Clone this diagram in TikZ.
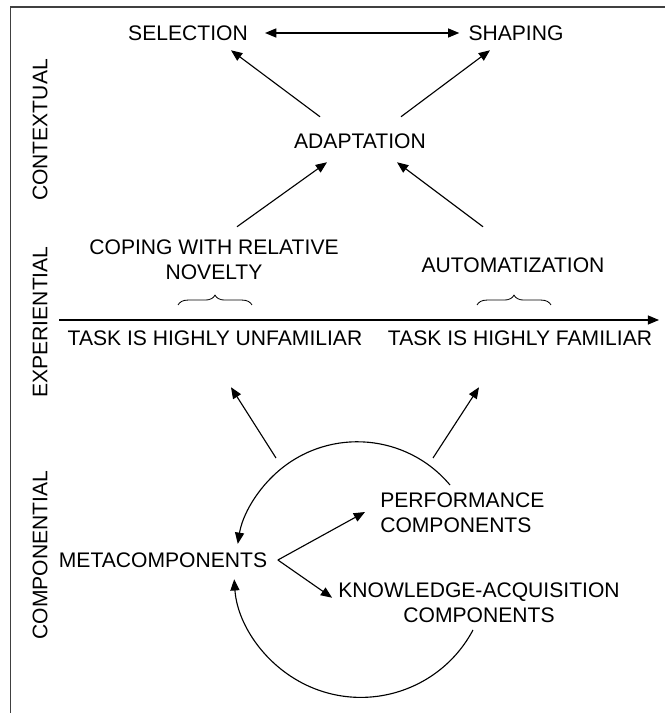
\documentclass[tikz,border=0pt]{standalone}
\usepackage{fontspec}
\setmainfont{Liberation Sans}
\usepackage{tikz}
\usetikzlibrary{calc,arrows.meta,decorations.pathreplacing}
\tikzset{
    txt/.style={inner sep=0pt, align=center, font=\fontsize{15}{17.8}\selectfont},
    side/.style={txt, rotate=90},
    line/.style={-{Triangle[length=8pt,width=6.5pt]}, line width=0.8pt},
    twoway/.style={{Triangle[length=8pt,width=6.5pt]}-{Triangle[length=8pt,width=6.5pt]}, line width=0.8pt},
    decoration={brace,amplitude=7pt},
    tuborg/.style={decorate, line width=0.6pt},
    boxline/.style={line width=1.4pt, draw=black!75},
}
\begin{document}
\begin{tikzpicture}[x=0.025cm, y=0.025cm]
    \useasboundingbox (0,0) rectangle (665,713);
    \draw[boxline] (10.5,0) -- (10.5,706) -- (665,706);

    % the three subtheories
    \node[side] (ctx) at (40,583) {CONTEXTUAL};
    \node[side] (exp) at (40,391) {EXPERIENTIAL};
    \node[side] (comp) at (40,158) {COMPONENTIAL};

    % contextual
    \node[txt] (sel) at (188,680) {SELECTION};
    \node[txt] (shp) at (516,680) {SHAPING};
    \node[txt] (adapt) at (360,572) {ADAPTATION};

    \draw[twoway] ($(sel.east)+(17,0)$) -- ($(shp.west)+(-9,0)$);
    \draw[line] ($(adapt.north)+(-40,16.5)$) -- ($(sel.south)+(43,-9.5)$);
    \draw[line] ($(adapt.north)+(41,16.5)$) -- ($(shp.south)+(-26,-9.5)$);

    % experiential
    \node[txt] (coping) at (214,453) {COPING WITH RELATIVE\\NOVELTY};
    \node[txt] (auto) at (513,448) {AUTOMATIZATION};
    \node[txt] (unfam) at (215,375) {TASK IS HIGHLY UNFAMILIAR};
    \node[txt] (fam) at (520,375) {TASK IS HIGHLY FAMILIAR};

    \draw[line] ($(coping.north)+(23,13)$) -- ($(adapt.south)+(-33,-13.5)$);
    \draw[line] ($(auto.north)+(-30,30.5)$) -- ($(adapt.south)+(37,-13.5)$);

    \coordinate (axl) at (59,393);
    \coordinate (axr) at (659,393);
    \draw[line] (axl) -- (axr);

    \draw[tuborg] (178,408) -- (252,408);
    \draw[tuborg] (477,408) -- (551,408);

    % componential
    \node[txt] (meta) at (163,153) {METACOMPONENTS};
    \node[txt, anchor=west, align=left] (perf) at (380,200) {PERFORMANCE\\COMPONENTS};
    \node[txt] (know) at (479,110) {KNOWLEDGE-ACQUISITION\\COMPONENTS};

    \coordinate (fork) at ($(meta.east)+(10.5,0)$);
    \draw[line] (fork) -- ($(perf.west)+(-15,1)$);
    \draw[line] (fork) -- ($(know.north west)+(-6,-15)$);

    \coordinate (hub) at (357,150);
    \draw[line] ([shift={(93,78)}]hub) arc[start angle=40, end angle=171, radius=121];
    \draw[line] ([shift={(116,-67)}]hub) arc[start angle=-28, end angle=-176, radius=127];

    \draw[line] ([shift={(-81,105)}]hub) -- ($(unfam.south)+(16,-41.5)$);
    \draw[line] ([shift={(76,105)}]hub) -- ($(fam.south)+(-41,-41.5)$);
\end{tikzpicture}
\end{document}
